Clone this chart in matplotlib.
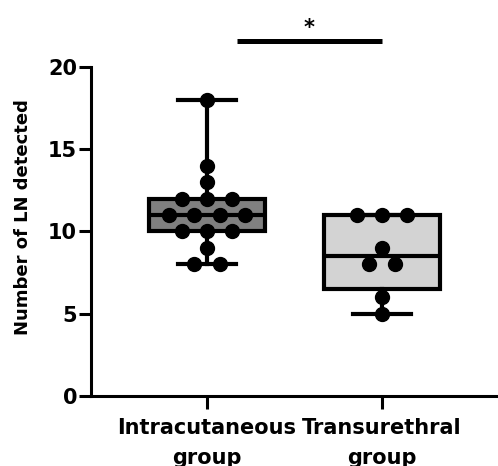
import numpy as np
import matplotlib.pyplot as plt

plt.rcParams['font.family'] = ['DejaVu Sans']
plt.rcParams['font.weight'] = 'bold'

# data
groups = ['Intracutaneous\ngroup', 'Transurethral\ngroup']
intracutaneous = [18, 14, 13, 12, 12, 12, 11, 11, 11, 11, 10, 10, 10, 9, 8, 8]
transurethral = [11, 11, 11, 9, 8, 8, 6, 5]
box_colors = ['#808080', '#d3d3d3']
sig_label = '*'


def quartile(v, p):
    # (n+1) method, like GraphPad
    s = np.sort(v)
    n = len(s)
    pos = p * (n + 1) - 1
    lo = int(np.floor(pos))
    frac = pos - lo
    lo = max(0, min(lo, n - 1))
    hi = min(lo + 1, n - 1)
    return s[lo] + frac * (s[hi] - s[lo])


data = [intracutaneous, transurethral]
stats = []
for v in data:
    stats.append({'med': np.median(v), 'q1': quartile(v, 0.25), 'q3': quartile(v, 0.75),
                  'whislo': min(v), 'whishi': max(v), 'fliers': []})

fig = plt.figure(figsize=(4.98, 4.66), dpi=100)
ax = fig.add_axes([91/498, 70/466, 407/498, 329/466])

lw = 3
bp = ax.bxp(stats, positions=[1, 2], widths=0.663, patch_artist=True, showfliers=False,
            boxprops=dict(linewidth=lw, edgecolor='black'),
            medianprops=dict(linewidth=lw, color='black'),
            whiskerprops=dict(linewidth=lw, color='black'),
            capprops=dict(linewidth=lw, color='black'), capwidths=0.33)
for patch, c in zip(bp['boxes'], box_colors):
    patch.set_facecolor(c)

# swarm-style dots
step = 0.143
for i, v in enumerate(data):
    vals, counts = np.unique(v, return_counts=True)
    for val, k in zip(vals, counts):
        offs = (np.arange(k) - (k - 1) / 2) * step
        ax.plot(i + 1 + offs, [val] * k, 'o', color='black', markersize=10, zorder=5,
                clip_on=False)

ax.set_xlim(0.337, 2.663)
ax.set_ylim(0, 20)
ax.set_yticks([0, 5, 10, 15, 20])
ax.set_xticks([1, 2])
ax.set_xticklabels(groups, fontsize=15, fontweight='bold', linespacing=1.6)
ax.tick_params(axis='y', labelsize=15, width=2.2, length=9, pad=1)
ax.tick_params(axis='x', width=2.2, length=9, pad=7)
for lab in ax.get_yticklabels():
    lab.set_fontweight('bold')
ax.set_ylabel('Number of LN detected', fontsize=13, fontweight='bold')
ax.yaxis.set_label_coords(-0.145, 0.543)
ax.spines['top'].set_visible(False)
ax.spines['right'].set_visible(False)
ax.spines['left'].set_linewidth(2.2)
ax.spines['bottom'].set_linewidth(2.2)

# significance bar
ax.plot([1.17, 2.0], [21.6, 21.6], color='black', linewidth=3.6, clip_on=False,
        solid_capstyle='butt')
ax.text(1.585, 21.75, sig_label, ha='center', va='bottom', fontsize=15, fontweight='bold')

fig.savefig('out.png', dpi=100)
